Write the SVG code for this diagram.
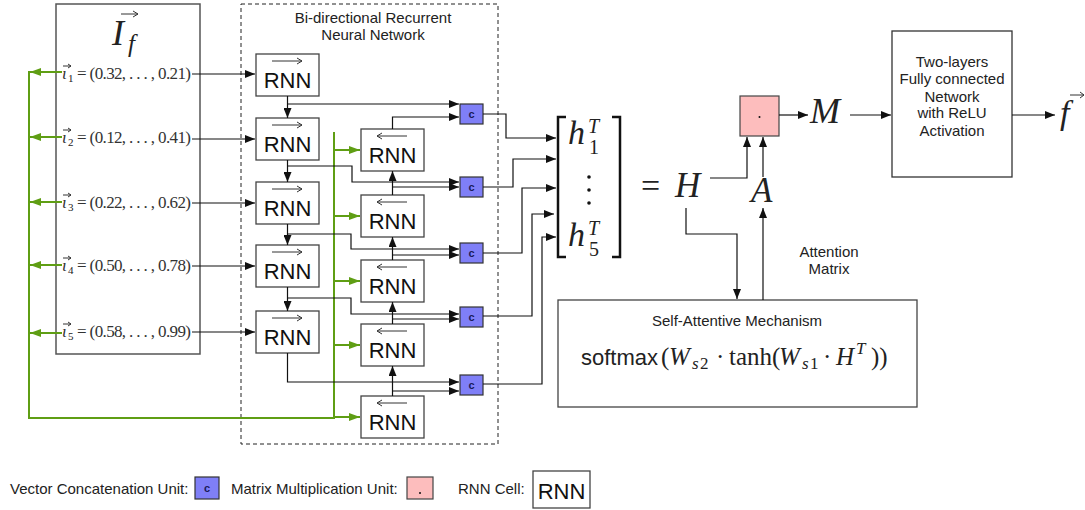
<svg xmlns="http://www.w3.org/2000/svg" width="1085" height="510" viewBox="0 0 1085 510">
<style>
.sans{font-family:"Liberation Sans",Arial,sans-serif;fill:#222}
.math{font-family:"Liberation Serif","Times New Roman",serif;fill:#222}
.it{font-style:italic}
.box{fill:#fff;stroke:#444;stroke-width:1.3}
.rnnt{font-family:"Liberation Sans",Arial,sans-serif;font-size:22px;fill:#111;text-anchor:middle}
.glyph{fill:none;stroke:#333;stroke-width:1}
.cbox{fill:#7f7ff7;stroke:#333;stroke-width:1.2}
.ct{font-family:"Liberation Sans",Arial,sans-serif;font-size:11px;font-weight:bold;fill:#1a1a5a;text-anchor:middle}
.pbox{fill:#fdbdbd;stroke:#444;stroke-width:1.2}
.ln{fill:none;stroke:#111;stroke-width:1.2}
.gl{fill:none;stroke:#5f9e14;stroke-width:2}
.lbl{font-family:"Liberation Sans",Arial,sans-serif;font-size:15px;fill:#222}
.row{font-family:"Liberation Serif","Times New Roman",serif;fill:#333;font-size:17px}
</style>
<defs>
<marker id="ah" markerWidth="10" markerHeight="8" refX="10" refY="4" orient="auto" markerUnits="userSpaceOnUse"><path d="M0,0 L10,4 L0,8 z" fill="#111"/></marker>
<marker id="gh" markerWidth="11" markerHeight="8" refX="11" refY="4" orient="auto" markerUnits="userSpaceOnUse"><path d="M0,0 L11,4 L0,8 z" fill="#5f9e14"/></marker>
</defs>

<g id="input-panel">
<rect x="56" y="4" width="144" height="350" fill="#fff" stroke="#555" stroke-width="1.5"/>
<text class="math it" x="112" y="45" font-size="36">I</text>
<text class="math it" x="128" y="52" font-size="25">f</text>
<path class="glyph" d="M121,14 H138 M133,11 L138,14 L133,17" stroke-width="1.3"/>
<g id="row1"><text class="row" x="62" y="79" font-style="italic">ι</text><text class="math" x="68" y="82" font-size="11">1</text><path class="glyph" d="M63,66 H71 M68,64 L71,66 L68,68" stroke-width="0.8"/><text class="row" x="77" y="79" textLength="114" lengthAdjust="spacing">= (0.32, . . . , 0.21)</text></g>
<g id="row2"><text class="row" x="62" y="143" font-style="italic">ι</text><text class="math" x="68" y="146" font-size="11">2</text><path class="glyph" d="M63,130 H71 M68,128 L71,130 L68,132" stroke-width="0.8"/><text class="row" x="77" y="143" textLength="114" lengthAdjust="spacing">= (0.12, . . . , 0.41)</text></g>
<g id="row3"><text class="row" x="62" y="208" font-style="italic">ι</text><text class="math" x="68" y="211" font-size="11">3</text><path class="glyph" d="M63,195 H71 M68,193 L71,195 L68,197" stroke-width="0.8"/><text class="row" x="77" y="208" textLength="114" lengthAdjust="spacing">= (0.22, . . . , 0.62)</text></g>
<g id="row4"><text class="row" x="62" y="271" font-style="italic">ι</text><text class="math" x="68" y="274" font-size="11">4</text><path class="glyph" d="M63,258 H71 M68,256 L71,258 L68,260" stroke-width="0.8"/><text class="row" x="77" y="271" textLength="114" lengthAdjust="spacing">= (0.50, . . . , 0.78)</text></g>
<g id="row5"><text class="row" x="62" y="337" font-style="italic">ι</text><text class="math" x="68" y="340" font-size="11">5</text><path class="glyph" d="M63,324 H71 M68,322 L71,324 L68,326" stroke-width="0.8"/><text class="row" x="77" y="337" textLength="114" lengthAdjust="spacing">= (0.58, . . . , 0.99)</text></g>
</g>

<g id="birnn-frame">
<rect x="241" y="4" width="257" height="440" fill="none" stroke="#222" stroke-width="1" stroke-dasharray="4,3"/>
<text class="lbl" x="373" y="23" text-anchor="middle" fill="#333">Bi-directional Recurrent</text>
<text class="lbl" x="373" y="40" text-anchor="middle" fill="#333">Neural Network</text>
</g>

<g id="fwd1"><rect class="box" x="256" y="54" width="63" height="42"/><path class="glyph" d="M272,61 H302 M297,58 L302,61 L297,64"/><text class="rnnt" x="287.5" y="88">RNN</text></g>
<g id="fwd2"><rect class="box" x="256" y="118" width="63" height="42"/><path class="glyph" d="M272,125 H302 M297,122 L302,125 L297,128"/><text class="rnnt" x="287.5" y="152">RNN</text></g>
<g id="fwd3"><rect class="box" x="256" y="182" width="63" height="42"/><path class="glyph" d="M272,189 H302 M297,186 L302,189 L297,192"/><text class="rnnt" x="287.5" y="216">RNN</text></g>
<g id="fwd4"><rect class="box" x="256" y="245" width="63" height="42"/><path class="glyph" d="M272,252 H302 M297,249 L302,252 L297,255"/><text class="rnnt" x="287.5" y="279">RNN</text></g>
<g id="fwd5"><rect class="box" x="256" y="311" width="63" height="42"/><path class="glyph" d="M272,318 H302 M297,315 L302,318 L297,321"/><text class="rnnt" x="287.5" y="345">RNN</text></g>

<g id="bwd1"><rect class="box" x="361" y="129" width="63" height="42"/><path class="glyph" d="M407,136 H377 M382,133 L377,136 L382,139"/><text class="rnnt" x="392.5" y="163">RNN</text></g>
<g id="bwd2"><rect class="box" x="361" y="195" width="63" height="42"/><path class="glyph" d="M407,202 H377 M382,199 L377,202 L382,205"/><text class="rnnt" x="392.5" y="229">RNN</text></g>
<g id="bwd3"><rect class="box" x="361" y="260" width="63" height="42"/><path class="glyph" d="M407,267 H377 M382,264 L377,267 L382,270"/><text class="rnnt" x="392.5" y="294">RNN</text></g>
<g id="bwd4"><rect class="box" x="361" y="324" width="63" height="42"/><path class="glyph" d="M407,331 H377 M382,328 L377,331 L382,334"/><text class="rnnt" x="392.5" y="358">RNN</text></g>
<g id="bwd5"><rect class="box" x="361" y="396" width="63" height="42"/><path class="glyph" d="M407,403 H377 M382,400 L377,403 L382,406"/><text class="rnnt" x="392.5" y="430">RNN</text></g>

<g id="concat1"><rect class="cbox" x="460" y="104" width="23" height="20"/><text class="ct" x="471.5" y="118">c</text></g>
<g id="concat2"><rect class="cbox" x="460" y="177" width="23" height="20"/><text class="ct" x="471.5" y="191">c</text></g>
<g id="concat3"><rect class="cbox" x="460" y="243" width="23" height="20"/><text class="ct" x="471.5" y="257">c</text></g>
<g id="concat4"><rect class="cbox" x="460" y="307" width="23" height="20"/><text class="ct" x="471.5" y="321">c</text></g>
<g id="concat5"><rect class="cbox" x="460" y="375" width="23" height="20"/><text class="ct" x="471.5" y="389">c</text></g>

<g id="matrix-H">
<path d="M566,117 H558 V257 H566 M612,117 H620 V257 H612" fill="none" stroke="#111" stroke-width="2.5"/>
<text class="math it" x="568" y="144" font-size="34">h</text>
<text class="math it" x="588" y="133" font-size="20">T</text>
<text class="math" x="589" y="154" font-size="20">1</text>
<circle cx="589" cy="177" r="1.8" fill="#111"/><circle cx="589" cy="190" r="1.8" fill="#111"/><circle cx="589" cy="203" r="1.8" fill="#111"/>
<text class="math it" x="568" y="246" font-size="34">h</text>
<text class="math it" x="588" y="235" font-size="20">T</text>
<text class="math" x="589" y="256" font-size="20">5</text>
<text class="math" x="641" y="197" font-size="34">=</text>
<text class="math it" x="675" y="197" font-size="35">H</text>
</g>

<g id="A-label"><text class="math it" x="751" y="202" font-size="35">A</text></g>

<g id="matmul"><rect class="pbox" x="740" y="96" width="39" height="40"/><circle cx="759.5" cy="117" r="1" fill="#111"/></g>

<g id="M-label"><text class="math it" x="810" y="123" font-size="36">M</text></g>

<g id="fc-net">
<rect x="892" y="31" width="120" height="146" fill="#fff" stroke="#333" stroke-width="1.3"/>
<text class="lbl" x="952" y="67" text-anchor="middle">Two-layers</text>
<text class="lbl" x="952" y="84" text-anchor="middle">Fully connected</text>
<text class="lbl" x="952" y="102" text-anchor="middle">Network</text>
<text class="lbl" x="952" y="118" text-anchor="middle">with ReLU</text>
<text class="lbl" x="952" y="136" text-anchor="middle">Activation</text>
</g>

<g id="f-out"><text class="math it" x="1060" y="124" font-size="34">f</text><path class="glyph" d="M1070,95 H1084 M1080,92 L1084,95 L1080,98" stroke-width="1.2"/></g>

<g id="self-attention">
<rect x="558" y="300" width="359" height="107" fill="#fff" stroke="#444" stroke-width="1.3"/>
<text class="lbl" x="737" y="326" text-anchor="middle">Self-Attentive Mechanism</text>
<text class="sans" x="581" y="365" font-size="22">softmax</text>
<text class="math" font-size="25" y="365"><tspan x="661">(</tspan><tspan x="669" font-style="italic">W</tspan><tspan x="692" y="369" font-size="17" font-style="italic">s</tspan><tspan x="700" y="369" font-size="17">2</tspan><tspan x="716" y="365">·</tspan><tspan x="729">tanh(</tspan><tspan x="779" font-style="italic">W</tspan><tspan x="802" y="369" font-size="17" font-style="italic">s</tspan><tspan x="810" y="369" font-size="17">1</tspan><tspan x="823" y="365">·</tspan><tspan x="836" font-style="italic">H</tspan><tspan x="856" y="354" font-size="17" font-style="italic">T</tspan><tspan x="871" y="365">))</tspan></text>
</g>

<g id="attention-label">
<text class="lbl" x="829" y="257" text-anchor="middle">Attention</text>
<text class="lbl" x="829" y="274" text-anchor="middle">Matrix</text>
</g>

<g id="legend">
<text class="lbl" x="10" y="494">Vector Concatenation Unit:</text>
<rect class="cbox" x="195" y="477" width="24" height="22"/><text class="ct" x="207" y="492">c</text>
<text class="lbl" x="231" y="494">Matrix Multiplication Unit:</text>
<rect class="pbox" x="407" y="477" width="26" height="22"/><circle cx="420" cy="493" r="1" fill="#111"/>
<text class="lbl" x="458" y="494">RNN Cell:</text>
<rect class="box" x="533" y="471" width="57" height="37"/><text class="rnnt" x="561.5" y="499" font-size="24">RNN</text>
</g>

<g id="connectors">
<path class="ln" d="M192,74 H255" marker-end="url(#ah)"/>
<path class="ln" d="M192,139 H255" marker-end="url(#ah)"/>
<path class="ln" d="M192,203 H255" marker-end="url(#ah)"/>
<path class="ln" d="M192,266 H255" marker-end="url(#ah)"/>
<path class="ln" d="M192,332 H255" marker-end="url(#ah)"/>

<path class="gl" d="M62,72 H30" marker-end="url(#gh)" stroke-width="1.6"/>
<path class="gl" d="M62,137 H30" marker-end="url(#gh)" stroke-width="1.6"/>
<path class="gl" d="M62,202 H30" marker-end="url(#gh)" stroke-width="1.6"/>
<path class="gl" d="M62,265 H30" marker-end="url(#gh)" stroke-width="1.6"/>
<path class="gl" d="M62,333 H30" marker-end="url(#gh)" stroke-width="1.6"/>
<path class="gl" d="M29,71 V418 H334 V132"/>
<path class="gl" d="M334,150 H360" marker-end="url(#gh)" stroke-width="1.6"/>
<path class="gl" d="M334,216 H360" marker-end="url(#gh)" stroke-width="1.6"/>
<path class="gl" d="M334,281 H360" marker-end="url(#gh)" stroke-width="1.6"/>
<path class="gl" d="M334,345 H360" marker-end="url(#gh)" stroke-width="1.6"/>
<path class="gl" d="M334,417 H360" marker-end="url(#gh)" stroke-width="1.6"/>

<path class="ln" d="M287.5,96 V118" marker-end="url(#ah)"/>
<path class="ln" d="M287.5,104 H459" marker-end="url(#ah)"/>
<path class="ln" d="M287.5,160 V182" marker-end="url(#ah)"/>
<path class="ln" d="M287.5,166 H352 V182 H459" marker-end="url(#ah)"/>
<path class="ln" d="M287.5,224 V245" marker-end="url(#ah)"/>
<path class="ln" d="M287.5,234 H351 V249 H459" marker-end="url(#ah)"/>
<path class="ln" d="M287.5,287 V311" marker-end="url(#ah)"/>
<path class="ln" d="M287.5,298 H351 V314 H459" marker-end="url(#ah)"/>
<path class="ln" d="M287.5,353 V382 H459" marker-end="url(#ah)"/>

<path class="ln" d="M392.5,129 V117 H459" marker-end="url(#ah)"/>
<path class="ln" d="M392.5,195 V171" marker-end="url(#ah)"/>
<path class="ln" d="M392.5,187 H459" marker-end="url(#ah)"/>
<path class="ln" d="M392.5,260 V237" marker-end="url(#ah)"/>
<path class="ln" d="M392.5,255 H459" marker-end="url(#ah)"/>
<path class="ln" d="M392.5,324 V302" marker-end="url(#ah)"/>
<path class="ln" d="M392.5,319 H459" marker-end="url(#ah)"/>
<path class="ln" d="M392.5,396 V366" marker-end="url(#ah)"/>
<path class="ln" d="M392.5,391 H459" marker-end="url(#ah)"/>

<path class="ln" d="M483,114 H506 V138 H556" marker-end="url(#ah)"/>
<path class="ln" d="M483,187 H513 V159 H556" marker-end="url(#ah)"/>
<path class="ln" d="M483,253 H522 V188 H556" marker-end="url(#ah)"/>
<path class="ln" d="M483,316 H532 V214 H554" marker-end="url(#ah)"/>
<path class="ln" d="M483,384 H542 V237 H556" marker-end="url(#ah)"/>

<path class="ln" d="M710,178 H747 V137" marker-end="url(#ah)"/>
<path class="ln" d="M763,177 V137" marker-end="url(#ah)"/>
<path class="ln" d="M779,115 H808" marker-end="url(#ah)"/>
<path class="ln" d="M850,115 H891" marker-end="url(#ah)"/>
<path class="ln" d="M1012,115 H1055" marker-end="url(#ah)"/>
<path class="ln" d="M686,208 V234 H737 V299" marker-end="url(#ah)"/>
<path class="ln" d="M763,300 V208" marker-end="url(#ah)"/>
</g>
</svg>
